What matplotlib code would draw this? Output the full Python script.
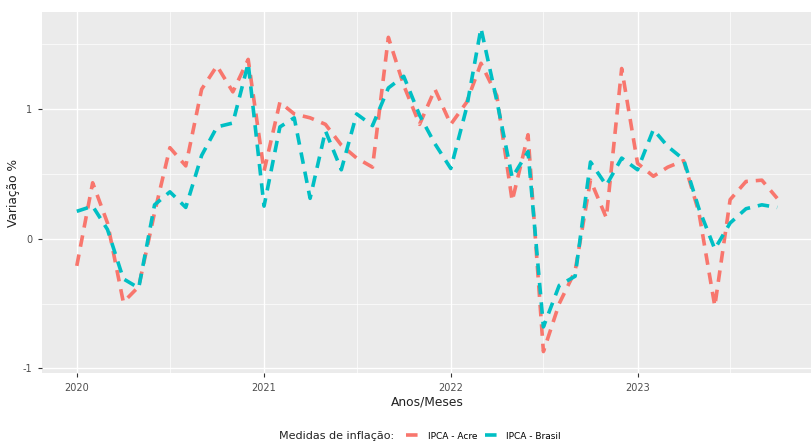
import matplotlib
matplotlib.use("Agg")
from matplotlib import pyplot as plt
import pandas as pd

# Data: monthly inflation (%), Jan/2020 .. Oct/2023

meses = pd.date_range("2020-01-01", periods=46, freq="MS")

ipca_acre = [-0.21, 0.43, 0.12, -0.49, -0.37, 0.20, 0.70, 0.56, 1.15, 1.33, 1.13, 1.38,
             0.52, 1.05, 0.96, 0.93, 0.88, 0.72, 0.62, 0.55, 1.55, 1.18, 0.88, 1.15,
             0.88, 1.05, 1.35, 1.10, 0.29, 0.80, -0.87, -0.50, -0.25, 0.45, 0.16, 1.31,
             0.58, 0.48, 0.55, 0.60, 0.20, -0.52, 0.30, 0.44, 0.45, 0.31]

ipca_brasil = [0.21, 0.25, 0.07, -0.31, -0.38, 0.26, 0.36, 0.24, 0.64, 0.86, 0.89, 1.35,
               0.25, 0.86, 0.93, 0.31, 0.83, 0.53, 0.96, 0.87, 1.16, 1.25, 0.95, 0.73,
               0.54, 1.01, 1.62, 1.06, 0.47, 0.67, -0.68, -0.36, -0.29, 0.59, 0.41, 0.62,
               0.53, 0.84, 0.71, 0.61, 0.23, -0.08, 0.12, 0.23, 0.26, 0.24]

series_labels = ["IPCA - Acre", "IPCA - Brasil"]
series_colors = ["#F8766D", "#00BFC4"]

year_ticks = pd.to_datetime(["2020-01-01", "2021-01-01", "2022-01-01", "2023-01-01"])
year_labels = ["2020", "2021", "2022", "2023"]
mid_year = pd.to_datetime(["2020-07-01", "2021-07-01", "2022-07-01", "2023-07-01"])

# Plot

fig = plt.figure(figsize=(8.12, 4.44), dpi=100)
ax = fig.add_axes([42/812, 1 - 373/444, (812 - 42)/812, (373 - 12)/444])
ax.set_facecolor("#EBEBEB")

for ys, lab, col in zip([ipca_acre, ipca_brasil], series_labels, series_colors):
    line, = ax.plot(meses, ys, color=col, lw=2.6, label=lab, solid_capstyle="butt")
    line.set_dashes((3.2, 2.2))

ax.set_xticks(year_ticks)
ax.set_xticklabels(year_labels)
ax.set_xticks(mid_year, minor=True)
ax.set_yticks([-1, 0, 1])
ax.set_yticklabels(["-1", "0", "1"])
ax.set_yticks([-0.5, 0.5, 1.5], minor=True)

# limits after the ticks, otherwise set_xticks widens the view
xmin = meses[0] - pd.Timedelta(days=68)
xmax = meses[-1] + pd.Timedelta(days=68)
ax.set_xlim(xmin, xmax)
ax.set_ylim(-1.035, 1.745)

ax.grid(which="major", color="white", lw=1.0)
ax.grid(which="minor", color="white", lw=0.5)
ax.set_axisbelow(True)
for s in ax.spines.values():
    s.set_visible(False)

ax.tick_params(which="major", length=3, color="#333333", labelsize=7, labelcolor="#4D4D4D", pad=4)
ax.tick_params(which="minor", length=0)

ax.set_xlabel("Anos/Meses", fontsize=8.8, color="#222222", labelpad=2)
ax.set_ylabel("Variação %", fontsize=8.8, color="#222222", labelpad=2)

fig.text(394/812, 1 - 436/444, "Medidas de inflação:", fontsize=8, color="#222222",
         ha="right", va="center")
fig.legend(loc="center left", bbox_to_anchor=(398/812, 1 - 436/444), ncol=2,
           frameon=False, fontsize=6.5, handlelength=1.8, columnspacing=0.8,
           handletextpad=0.6)

fig.savefig("out.png", dpi=100)
